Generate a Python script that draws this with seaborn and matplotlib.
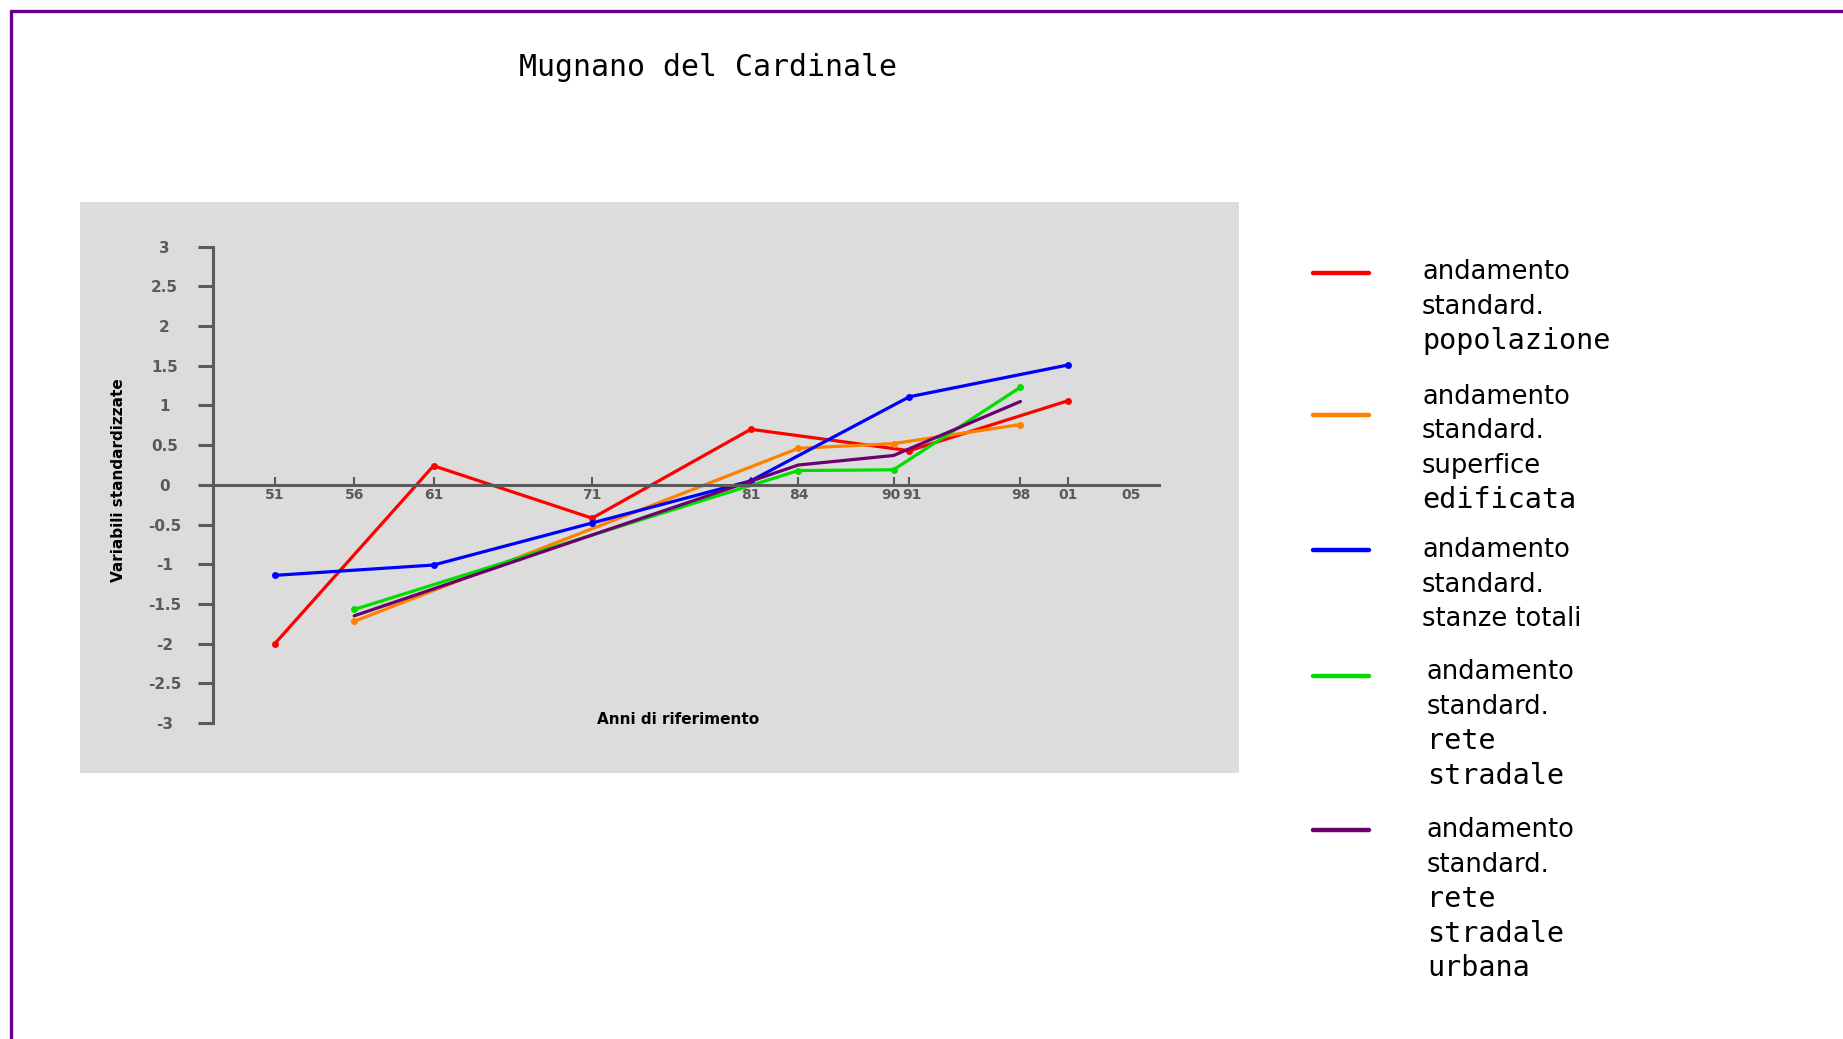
import pandas as pd
import numpy as np
import matplotlib
matplotlib.use("Agg")
import matplotlib.pyplot as plt
import matplotlib.transforms as mtransforms
import seaborn as sns
from matplotlib.lines import Line2D
from matplotlib.patches import Rectangle

# ─────────────────────────────────────────────
# DATA
# ─────────────────────────────────────────────
census_years = [1951, 1961, 1971, 1981, 1991, 2001]
other_years = [1956, 1984, 1990, 1998]

popolazione = [-2.0, 0.24, -0.42, 0.70, 0.43, 1.06]
stanze_totali = [-1.14, -1.01, -0.48, 0.05, 1.11, 1.51]
superficie_edificata = [-1.72, 0.46, 0.52, 0.76]
rete_stradale = [-1.57, 0.18, 0.19, 1.23]
rete_stradale_urbana = [-1.65, 0.25, 0.37, 1.05]

x_ticks = [1951, 1956, 1961, 1971, 1981, 1984, 1990, 1991, 1998, 2001, 2005]
x_labels = ["51", "56", "61", "71", "81", "84", "90", "91", "98", "01", "05"]
y_ticks = [3, 2.5, 2, 1.5, 1, 0.5, 0, -0.5, -1, -1.5, -2, -2.5, -3]
y_labels = ["3", "2.5", "2", "1.5", "1", "0.5", "0", "-0.5", "-1", "-1.5", "-2", "-2.5", "-3"]

series = [
    ("popolazione", census_years, popolazione, "#ff0000", "o"),
    ("superficie", other_years, superficie_edificata, "#ff8000", "o"),
    ("stanze", census_years, stanze_totali, "#0000ff", "o"),
    ("rete", other_years, rete_stradale, "#00dd00", "o"),
    ("urbana", other_years, rete_stradale_urbana, "#6c006c", None),
]

# legend: (colour, [(line text, special font?)])
legend_items = [
    ("#ff0000", [("andamento", False), ("standard.", False), ("popolazione", True)]),
    ("#ff8000", [("andamento", False), ("standard.", False), ("superfice", False), ("edificata", True)]),
    ("#0000ff", [("andamento", False), ("standard.", False), ("stanze totali", False)]),
    ("#00dd00", [("andamento", False), ("standard.", False), ("rete", True), ("stradale", True)]),
    ("#6c006c", [("andamento", False), ("standard.", False), ("rete", True), ("stradale", True), ("urbana", True)]),
]

# ─────────────────────────────────────────────
# FIGURE
# ─────────────────────────────────────────────
sns.set_style("white")
plt.rcParams["font.family"] = ["DejaVu Sans"]

W, H = 1843, 1039
fig = plt.figure(figsize=(W / 100, H / 100), dpi=100)
fig.patch.set_facecolor("white")

# grey panel behind the plot
fig.add_artist(Rectangle((80 / W, 1 - 773 / H), 1159 / W, 571 / H,
                         transform=fig.transFigure, facecolor="#dcdcdc",
                         edgecolor="none", zorder=0))

# purple frame (top + left)
frame_col = "#660088"
fig.add_artist(Line2D([11 / W, 1], [1 - 11 / H, 1 - 11 / H], transform=fig.transFigure,
                      color=frame_col, linewidth=2.4, zorder=5))
fig.add_artist(Line2D([11 / W, 11 / W], [0, 1 - 11 / H], transform=fig.transFigure,
                      color=frame_col, linewidth=2.4, zorder=5))

ax = fig.add_axes([213 / W, 1 - 723 / H, 945.5 / W, 476.3 / H])
ax.set_facecolor("none")
ax.set_zorder(2)

for name, xs, ys, col, mk in series:
    sns.lineplot(x=xs, y=ys, ax=ax, color=col, linewidth=2.3,
                 marker=mk, markersize=5, markeredgewidth=0, legend=False)

ax.set_xlim(1947.1, 2006.7)
ax.set_ylim(-3, 3)

axis_col = "#5a5a5a"
ax.spines[["top", "right"]].set_visible(False)
ax.spines["bottom"].set_position(("data", 0))
for sp in ["left", "bottom"]:
    ax.spines[sp].set_color(axis_col)
    ax.spines[sp].set_linewidth(2.2)

ax.set_xticks(x_ticks)
ax.set_xticklabels(x_labels)
ax.set_yticks(y_ticks)
ax.set_yticklabels(y_labels)
ax.tick_params(axis="x", bottom=True, direction="in", length=6, width=1.5,
               color=axis_col, labelcolor=axis_col, labelsize=10, pad=2)
ax.tick_params(axis="y", left=True, direction="out", length=11, width=2.2,
               color=axis_col, labelcolor=axis_col, labelsize=11, pad=24)
for lab in ax.get_yticklabels():
    lab.set_horizontalalignment("center")
for lab in ax.get_xticklabels() + ax.get_yticklabels():
    lab.set_fontweight("bold")
ax.xaxis.get_major_ticks()[-1].tick1line.set_visible(False)

# nudge the crowded 90 / 91 labels apart a little
xlabs = ax.get_xticklabels()
for lab, dx in [(xlabs[6], -3), (xlabs[7], 3)]:
    lab.set_transform(lab.get_transform() +
                      mtransforms.ScaledTranslation(dx / 100, 0, fig.dpi_scale_trans))
ax.set_xlabel("")
ax.set_ylabel("")

# axis titles
fig.text(119 / W, 1 - 480 / H, "Variabili standardizzate", rotation=90,
         ha="center", va="center", fontsize=11, fontweight="bold", color="black")
fig.text(678 / W, 1 - 720 / H, "Anni di riferimento", ha="center", va="center",
         fontsize=11, fontweight="bold", color="black")

# title
fig.text(708 / W, 1 - 68 / H, "Mugnano del Cardinale", ha="center", va="center",
         fontsize=21.5, family="DejaVu Sans Mono", color="black")

# ─────────────────────────────────────────────
# LEGEND (drawn by hand to keep the multi-line layout)
# ─────────────────────────────────────────────
handle_y = [273, 415, 550, 676, 830]
text_x = [1422, 1422, 1422, 1427, 1427]
text_y0 = [272, 397, 550, 672, 830]
line_step = 34.5
for (col, lines), hy, tx, ty in zip(legend_items, handle_y, text_x, text_y0):
    fig.add_artist(Line2D([1313 / W, 1369 / W], [1 - hy / H, 1 - hy / H],
                          transform=fig.transFigure, color=col, linewidth=3.2,
                          solid_capstyle="round"))
    for i, (txt, special) in enumerate(lines):
        fam = "DejaVu Sans Mono" if special else "DejaVu Sans"
        size = 20.5 if special else 18.5
        fig.text(tx / W, 1 - (ty + i * line_step) / H, txt, ha="left",
                 va="center", fontsize=size, family=fam, color="black")

fig.savefig("out.png", dpi=100, facecolor="white")
